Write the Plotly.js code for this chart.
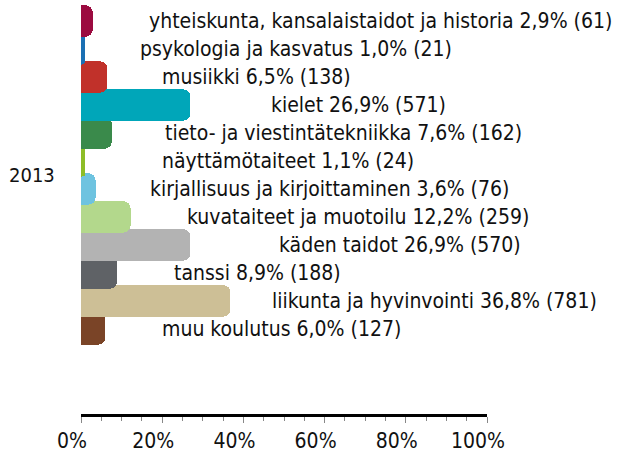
<!DOCTYPE html>
<html>
<head>
<meta charset="utf-8">
<script src="https://cdn.plot.ly/plotly-3.0.1.min.js"></script>
<style>html,body{margin:0;padding:0;background:#fff;}#chart{width:623px;height:454px;}</style>
</head>
<body>
<div id="chart"></div>
<script>
// Data (listed bottom to top, as in the chart)
const categories = [
  "muu koulutus",
  "liikunta ja hyvinvointi",
  "tanssi",
  "käden taidot",
  "kuvataiteet ja muotoilu",
  "kirjallisuus ja kirjoittaminen",
  "näyttämötaiteet",
  "tieto- ja viestintätekniikka",
  "kielet",
  "musiikki",
  "psykologia ja kasvatus",
  "yhteiskunta, kansalaistaidot ja historia"
];
const percents = [6.0, 36.8, 8.9, 26.9, 12.2, 3.6, 1.1, 7.6, 26.9, 6.5, 1.0, 2.9];
const counts = [127, 781, 188, 570, 259, 76, 24, 162, 571, 138, 21, 61];
const yearLabel = "2013";
const xTickValues = [0, 20, 40, 60, 80, 100];
const xTickLabels = ["0%", "20%", "40%", "60%", "80%", "100%"];

// Styles
const colors = ["#7a4427", "#cdbf96", "#5f6266", "#b3b3b3", "#b3d88c", "#6ec3e0",
                "#8dbd27", "#3a8a4b", "#00a6b9", "#c1312a", "#1b70b4", "#9c0b40"];
const labelShift = [55, 40, 55, 87, 54, 52, 75, 51, 79, 53, 53, 54];
const FONT = "'DejaVu Sans Condensed', 'DejaVu Sans', Verdana, sans-serif";
const FS = 21;

const fmt = v => v.toFixed(1).replace('.', ',');
const labels = categories.map((c, i) => c + " " + fmt(percents[i]) + "% (" + counts[i] + ")");

const trace = {
  type: "bar",
  orientation: "h",
  x: percents,
  y: categories,
  width: categories.map(() => 1.12),
  marker: { color: colors, cornerradius: 7, line: { width: 0 } },
  hoverinfo: "skip"
};

const annotations = categories.map((c, i) => ({
  x: percents[i], y: c, xref: "x", yref: "y",
  text: labels[i], showarrow: false, xanchor: "left", yanchor: "middle",
  xshift: labelShift[i],
  font: { family: FONT, size: FS, color: "#111" }
}));
annotations.push({
  x: 0, y: 5.5, xref: "paper", yref: "y", text: yearLabel, showarrow: false,
  xanchor: "right", yanchor: "middle", xshift: -24,
  font: { family: FONT, size: 20, color: "#111" }
});

const layout = {
  width: 623, height: 454,
  margin: { l: 81, r: 136, t: 0, b: 40 },
  paper_bgcolor: "#fff", plot_bgcolor: "#fff",
  showlegend: false,
  bargap: 0,
  xaxis: {
    range: [0, 100], tickmode: "array", tickvals: xTickValues, ticktext: xTickLabels,
    showgrid: false, zeroline: false,
    showline: true, linecolor: "#000", linewidth: 3,
    ticks: "outside", ticklen: 6, tickcolor: "#888", tickwidth: 1,
    ticklabelshift: -9,
    minor: { dtick: 5, ticks: "outside", ticklen: 4, tickcolor: "#888", showgrid: false },
    tickfont: { family: FONT, size: FS, color: "#111" },
    fixedrange: true
  },
  yaxis: {
    type: "category", categoryorder: "array", categoryarray: categories,
    range: [-3.04, 11.75],
    showticklabels: false, showgrid: false, zeroline: false, showline: false, ticks: "",
    fixedrange: true
  },
  annotations: annotations
};

Plotly.newPlot("chart", [trace], layout, { displayModeBar: false, staticPlot: true });
</script>
</body>
</html>
